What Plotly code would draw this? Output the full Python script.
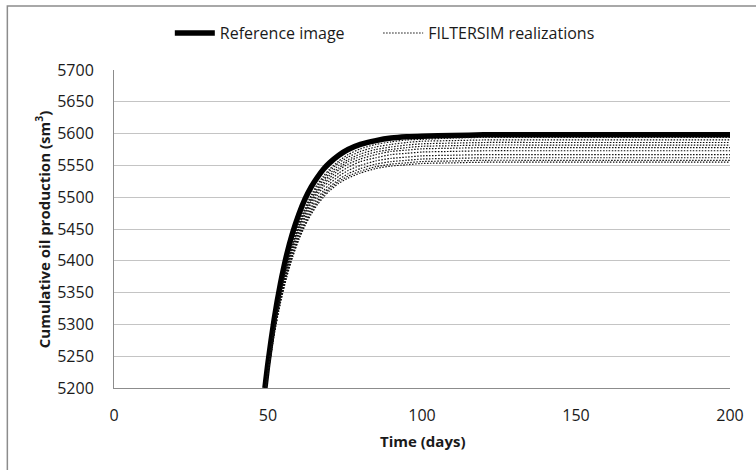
import plotly.graph_objects as go

# ---- data ----
time_days = [49, 50, 52, 54, 56, 58, 60, 62, 64, 66, 68, 70, 73, 76, 80, 85,
             90, 95, 100, 110, 120, 140, 160, 180, 200]

reference = [5200, 5240, 5308, 5363, 5408, 5444, 5473, 5497, 5516, 5531, 5544,
             5554, 5566, 5575, 5583, 5589, 5593, 5595, 5596, 5597, 5598, 5598,
             5598, 5598, 5598]

real_1 = [5188, 5227, 5293, 5348, 5392, 5429, 5459, 5483, 5503, 5520, 5533, 5544,
          5557, 5567, 5576, 5583, 5587, 5590, 5591, 5593, 5594, 5594, 5594, 5594, 5594]
real_2 = [5188, 5227, 5292, 5346, 5390, 5427, 5456, 5480, 5500, 5517, 5530, 5541,
          5554, 5563, 5572, 5579, 5583, 5586, 5588, 5589, 5590, 5590, 5590, 5590, 5590]
real_3 = [5188, 5226, 5292, 5345, 5388, 5424, 5454, 5478, 5497, 5513, 5527, 5537,
          5550, 5559, 5568, 5575, 5579, 5582, 5584, 5585, 5586, 5586, 5586, 5586, 5586]
real_4 = [5189, 5226, 5291, 5343, 5386, 5422, 5451, 5475, 5494, 5510, 5523, 5534,
          5546, 5556, 5564, 5571, 5575, 5578, 5580, 5581, 5582, 5582, 5582, 5582, 5582]
real_5 = [5189, 5226, 5290, 5342, 5384, 5420, 5448, 5472, 5491, 5507, 5520, 5530,
          5543, 5552, 5560, 5567, 5572, 5574, 5576, 5577, 5578, 5578, 5578, 5578, 5578]
real_6 = [5189, 5225, 5288, 5340, 5382, 5417, 5445, 5468, 5487, 5503, 5516, 5526,
          5538, 5547, 5556, 5562, 5567, 5569, 5571, 5572, 5573, 5573, 5573, 5573, 5573]
real_7 = [5189, 5225, 5287, 5338, 5379, 5413, 5441, 5464, 5483, 5498, 5510, 5521,
          5533, 5542, 5550, 5557, 5561, 5563, 5565, 5566, 5567, 5567, 5567, 5567, 5567]
real_8 = [5189, 5225, 5286, 5336, 5377, 5410, 5438, 5460, 5479, 5494, 5506, 5516,
          5528, 5537, 5545, 5552, 5556, 5558, 5560, 5561, 5562, 5562, 5562, 5562, 5562]
real_9 = [5189, 5224, 5285, 5334, 5375, 5408, 5435, 5457, 5476, 5491, 5503, 5513,
          5525, 5533, 5541, 5548, 5552, 5554, 5556, 5557, 5558, 5558, 5558, 5558, 5558]
real_10 = [5189, 5224, 5284, 5333, 5373, 5406, 5433, 5455, 5473, 5488, 5500, 5510,
           5522, 5530, 5538, 5545, 5549, 5551, 5553, 5554, 5555, 5555, 5555, 5555, 5555]

realizations = [real_1, real_2, real_3, real_4, real_5,
                real_6, real_7, real_8, real_9, real_10]

x_ticks = [0, 50, 100, 150, 200]
y_ticks = [5200, 5250, 5300, 5350, 5400, 5450, 5500, 5550, 5600, 5650, 5700]

# ---- figure ----
FONT = "Open Sans"
FS = 16
TXT = "#1a1a1a"
fig = go.Figure()

fig.add_trace(go.Scatter(
    x=time_days, y=reference, mode="lines", name="Reference image",
    line=dict(color="black", width=5.5, shape="spline", smoothing=0.6),
    legend="legend", showlegend=True))

for i, r in enumerate(realizations):
    fig.add_trace(go.Scatter(
        x=time_days, y=r, mode="lines", name="FILTERSIM realizations",
        line=dict(color="#111111", width=1.2, dash="1.5px,1.5px",
                  shape="spline", smoothing=0.6),
        legend="legend2", legendgroup="real", showlegend=(i == 0)))

legend_common = dict(orientation="h", yanchor="middle", y=1.116, xanchor="left",
                     font=dict(family=FONT, size=FS, color=TXT),
                     bgcolor="rgba(0,0,0,0)", itemwidth=40)

fig.update_layout(
    width=756, height=470,
    margin=dict(l=114, r=24, t=70, b=82),
    paper_bgcolor="white", plot_bgcolor="white",
    font=dict(family=FONT, size=FS, color=TXT),
    showlegend=True,
    legend=dict(x=(170 - 114) / 618, **legend_common),
    legend2=dict(x=(379 - 114) / 618, **legend_common),
    xaxis=dict(range=[0, 200], tickvals=x_ticks, ticktext=[str(v) for v in x_ticks],
               showgrid=False, zeroline=False, showline=True,
               linecolor="#8c8c8c", linewidth=1,
               ticks="outside", ticklen=0, ticklabelstandoff=13,
               tickfont=dict(family=FONT, size=FS, color=TXT)),
    yaxis=dict(range=[5200, 5700], tickvals=y_ticks, ticktext=[str(v) for v in y_ticks],
               showgrid=True, gridcolor="#c4c4c4", gridwidth=1,
               zeroline=False, showline=True,
               linecolor="#8c8c8c", linewidth=1,
               ticks="outside", ticklen=0, ticklabelstandoff=16,
               tickfont=dict(family=FONT, size=FS, color=TXT)),
)

# axis titles
fig.add_annotation(text="<b>Time (days)</b>", xref="paper", yref="paper",
                   x=0.5, y=-(441 - 388) / 318, xanchor="center", yanchor="middle",
                   showarrow=False, font=dict(family=FONT, size=15, color=TXT))
fig.add_annotation(text="<b>Cumulative oil production (sm<sup>3</sup>)</b>",
                   xref="paper", yref="paper",
                   x=(42 - 114) / 618, y=(388 - 229) / 318,
                   xanchor="center", yanchor="middle", textangle=-90,
                   showarrow=False, font=dict(family=FONT, size=15, color=TXT))

# chart outer border (cropped at right/bottom)
fig.add_shape(type="rect", xref="paper", yref="paper",
              x0=(7 - 114) / 618, x1=1.5, y0=-1.0, y1=(388 - 6) / 318,
              line=dict(color="#8c8c8c", width=1.5), fillcolor="rgba(0,0,0,0)",
              layer="below")

fig.write_html("out.html")
